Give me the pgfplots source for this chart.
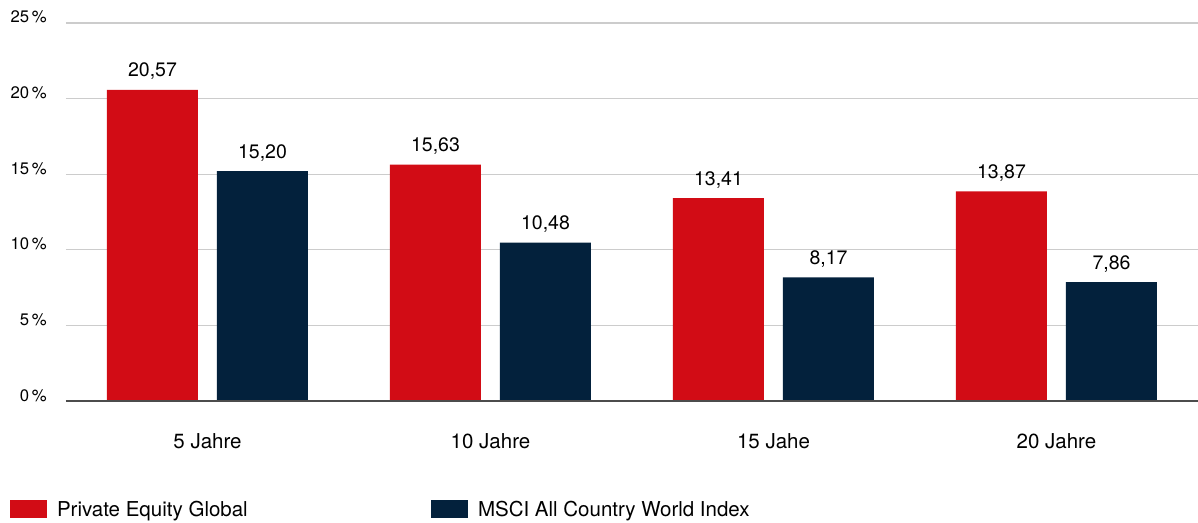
\documentclass[border=0pt]{standalone}
\usepackage{fontspec}
\setmainfont{TeX Gyre Heros}
\usepackage{pgfplots}
\pgfplotsset{compat=1.18}
\definecolor{peRed}{RGB}{210,12,21}
\definecolor{msciNavy}{RGB}{3,33,60}
\definecolor{gridGray}{RGB}{204,204,204}

\begin{document}
\begin{tikzpicture}
  % fix the page to the reference frame (axis box at 66..1198 x 23..401 px)
  \useasboundingbox (-66pt,-121pt) rectangle (1132pt,401pt);
  \begin{axis}[
      at={(0pt,0pt)}, anchor=south west,
      scale only axis,
      width=1132pt, height=378pt,
      xmin=-0.5, xmax=3.5,
      ymin=0, ymax=25,
      axis line style={draw=none},
      major tick length=0pt,
      xtick={0,1,2,3},
      xticklabels={5 Jahre,10 Jahre,15 Jahe,20 Jahre},
      xticklabel style={font=\fontsize{20.5}{24}\selectfont, inner sep=0pt, anchor=base, yshift=-47pt},
      ytick={5,10,15,20,25},
      yticklabels={5\,\%,10\,\%,15\,\%,20\,\%,25\,\%},
      extra y ticks={0},
      extra y tick labels={0\,\%},
      yticklabel style={font=\fontsize{16.7}{20}\selectfont, inner sep=0pt, anchor=base east, xshift=-19pt},
      ymajorgrids,
      grid style={gridGray, line width=1.2pt},
      /pgf/number format/assume math mode=true,
      ybar, bar width=91pt,
      nodes near coords,
      nodes near coords style={/pgf/number format/fixed, /pgf/number format/fixed zerofill,
        /pgf/number format/precision=2, /pgf/number format/use comma},
      every node near coord/.append style={font=\fontsize{19.5}{23}\selectfont, text=black, anchor=base, inner sep=0pt, yshift=13pt},
      legend columns=2,
      legend style={draw=none, fill=none, inner sep=0pt, outer sep=0pt,
        at={(-0.04947,-0.2619)}, anchor=north west,
        column sep=0pt,
        nodes={inner sep=0pt, anchor=base west, font=\fontsize{20.5}{24}\selectfont},
        /tikz/every odd column/.append style={column sep=10pt}},
      legend image code/.code={\fill[#1] (0pt,-1pt) rectangle (37pt,16.5pt);},
    ]
    % Private Equity Global -- red
    \addplot[fill=peRed, draw=none, bar shift=-55pt]
      coordinates {(0,20.57) (1,15.63) (2,13.41) (3,13.87)};
    \addlegendentry{\makebox[374pt][l]{Private Equity Global}}
    % MSCI ACWI -- navy
    \addplot[fill=msciNavy, draw=none, bar shift=55pt]
      coordinates {(0,15.20) (1,10.48) (2,8.17) (3,7.86)};
    \addlegendentry{MSCI All Country World Index}
    % zero line
    \draw[black!70, line width=1.6pt] (axis cs:-0.5,0) -- (axis cs:3.5,0);
  \end{axis}
\end{tikzpicture}
\end{document}
